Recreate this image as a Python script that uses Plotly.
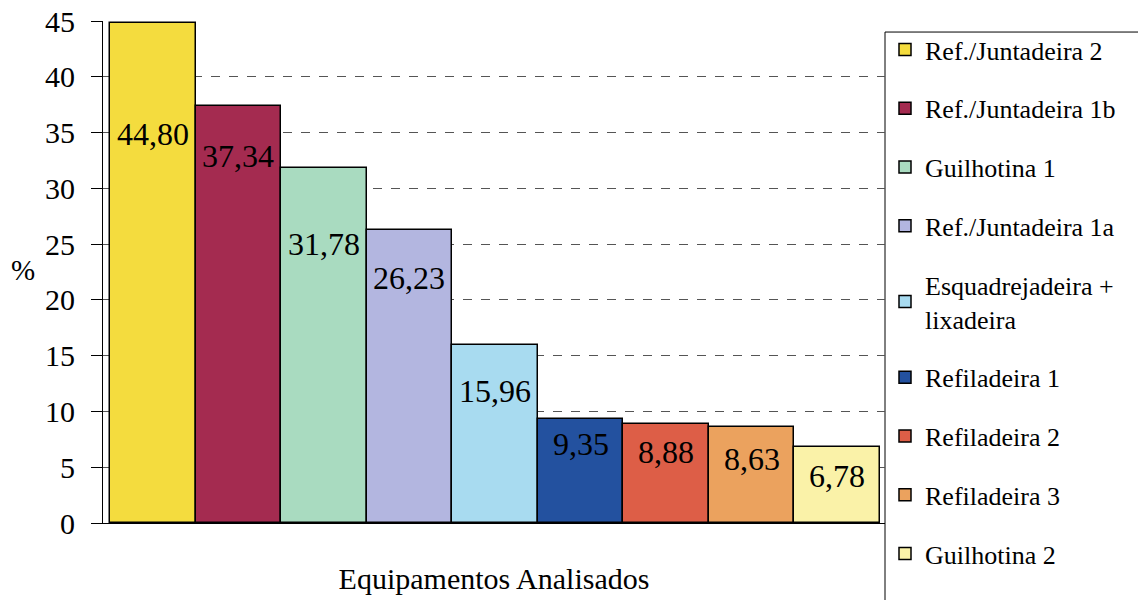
import plotly.graph_objects as go

# Equipment names (legend entries) and their percentages
equipamentos = [
    "Ref./Juntadeira 2",
    "Ref./Juntadeira 1b",
    "Guilhotina 1",
    "Ref./Juntadeira 1a",
    "Esquadrejadeira +<br>lixadeira",
    "Refiladeira 1",
    "Refiladeira 2",
    "Refiladeira 3",
    "Guilhotina 2",
]
percentuais = [44.80, 37.34, 31.78, 26.23, 15.96, 9.35, 8.88, 8.63, 6.78]
rotulos = ["44,80", "37,34", "31,78", "26,23", "15,96", "9,35", "8,88", "8,63", "6,78"]
y_ticks = [0, 5, 10, 15, 20, 25, 30, 35, 40, 45]

# Styling
cores = ["#F4DC3E", "#A42B50", "#A9DBC0", "#B3B6E0", "#A8DBF0",
         "#23519F", "#DD5E47", "#EBA25E", "#FAF2A8"]
# how far below each bar top its value label sits (in % units)
descida_rotulo = [9.9, 4.4, 6.8, 4.3, 4.1, 2.3, 2.5, 2.9, 2.6]

SERIF = "Liberation Serif"

fig = go.Figure()
for nome, valor, cor in zip(equipamentos, percentuais, cores):
    fig.add_trace(go.Bar(
        x=[nome], y=[valor], name=nome, legendgroup=nome,
        marker=dict(color=cor, line=dict(color="black", width=1.5)),
        showlegend=True,
    ))

for nome, valor, txt, d in zip(equipamentos, percentuais, rotulos, descida_rotulo):
    fig.add_annotation(
        x=nome, y=valor - d, xref="x", yref="y", text=txt, showarrow=False,
        font=dict(family=SERIF, size=32, color="black"),
    )

# y-axis title, drawn horizontally
fig.add_annotation(
    x=-0.102, y=0.504, xref="paper", yref="paper", text="%", showarrow=False,
    xanchor="center", yanchor="middle",
    font=dict(family=SERIF, size=29, color="black"),
)

# frame around the legend, running off the right/bottom edge
fig.add_shape(
    type="rect", xref="paper", yref="paper",
    x0=1.0, x1=1.5, y0=-0.4, y1=0.978,
    line=dict(color="black", width=1), fillcolor="rgba(0,0,0,0)", layer="below",
)

fig.update_layout(
    width=1138, height=600,
    margin=dict(l=103, r=253, t=21, b=77, autoexpand=False),
    paper_bgcolor="white", plot_bgcolor="white",
    bargap=0, barmode="group",
    showlegend=True,
    legend=dict(
        x=1.0, xanchor="left", y=0.99, yanchor="top",
        font=dict(family=SERIF, size=26, color="black"),
        traceorder="grouped", tracegroupgap=22,
        bgcolor="rgba(0,0,0,0)", borderwidth=0,
        maxheight=600,
    ),
    xaxis=dict(
        range=[-0.582, 8.558], showticklabels=False, ticks="",
        showgrid=False, zeroline=False, showline=True, automargin=False,
        linecolor="black", linewidth=1,
        title=dict(text="Equipamentos Analisados", standoff=44,
                   font=dict(family=SERIF, size=30, color="black")),
    ),
    yaxis=dict(
        range=[0, 45], tickvals=y_ticks, ticks="outside", ticklen=11,
        tickcolor="black", showline=True, linecolor="black", linewidth=1,
        showgrid=True, gridcolor="#555555", griddash="dash", gridwidth=1,
        zeroline=False, automargin=False, ticklabelstandoff=10,
        tickfont=dict(family=SERIF, size=30, color="black"),
    ),
)

fig.write_html("out.html")
